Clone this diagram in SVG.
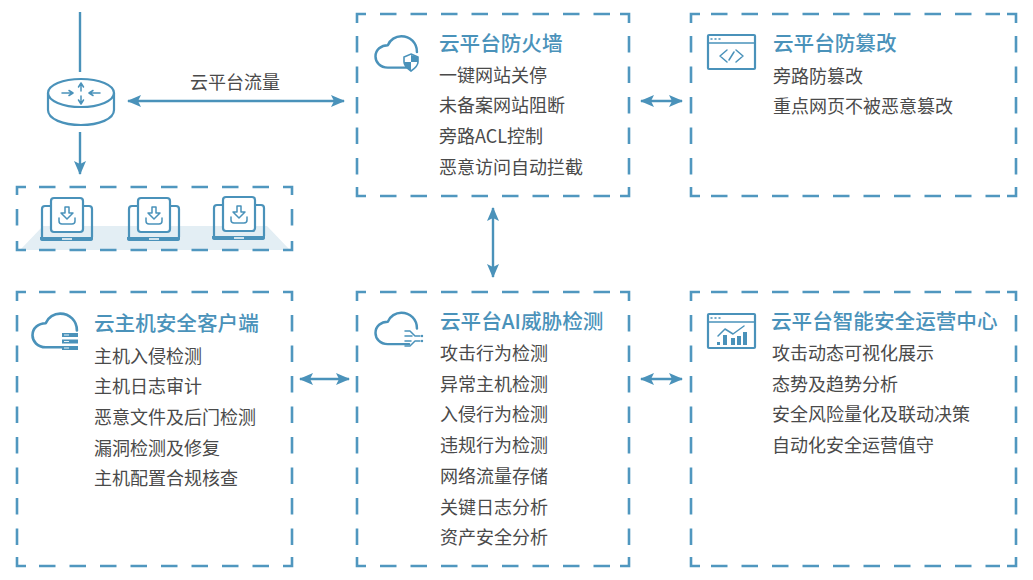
<svg xmlns="http://www.w3.org/2000/svg" width="1033" height="580" viewBox="0 0 1033 580">
<style>
text{font-family:"Noto Sans CJK SC","Liberation Sans",sans-serif}
.t{font-size:20.6px;fill:#4a92ba;font-weight:500}
.b{font-size:18px;fill:#4a4a4a}
.d{fill:none;stroke:#5097bf;stroke-width:2.6}
.ds{stroke-dasharray:16.500 14}
.i{fill:none;stroke:#4a92ba;stroke-width:2.200;stroke-linecap:round;stroke-linejoin:round}
.i2{fill:none;stroke:#4a92ba;stroke-width:1.500;stroke-linecap:round;stroke-linejoin:round}
.f{fill:#4a92ba}
.w{fill:#e8f2f7}
.c{fill:none;stroke:#4a92ba;stroke-width:2.400}
</style>
<defs>
<marker id="h" viewBox="0 0 14 14" refX="13" refY="7" markerUnits="userSpaceOnUse" markerWidth="14" markerHeight="14" orient="auto-start-reverse"><path d="M0,1 L14,7 L0,13 L3,7 Z" fill="#4a92ba"/></marker>
<g id="laptop">
<path class="i" d="M-23,39 V11 Q-23,8 -20,8 H24 Q27,8 27,11 V39" transform="translate(-1 0)"/>
<rect x="-15" y="0" width="32" height="34" rx="3" fill="#fff" stroke="#4a92ba" stroke-width="2.200"/>
<path class="i2" d="M-1,9 V15 H-5 L1,21 L7,15 H3 V9 Z M-7,20 V23 Q-7,26 -4,26 H6 Q9,26 9,23 V20"/>
<path d="M-26,39 H27 V41 Q27,43 24,43 H-23 Q-26,43 -26,41 Z" class="f"/>
<rect x="-4" y="40" width="10" height="2" fill="#cfe2ec"/>
</g>
<path id="cloud" d="M30,26 H11 C4,26 0,21 0,16 C0,10 5,6 11,6 C13,1 18,-2 23,-2 C31,-2 37,4 37,12"/>
</defs>

<g id="connectors">
<line class="c" x1="80" y1="12" x2="80" y2="72"/>
<line class="c" x1="80" y1="132" x2="80" y2="174" marker-end="url(#h)"/>
<line class="c" x1="128" y1="101" x2="344" y2="101" marker-start="url(#h)" marker-end="url(#h)"/>
<line class="c" x1="641" y1="101" x2="682" y2="101" marker-start="url(#h)" marker-end="url(#h)"/>
<line class="c" x1="493" y1="208" x2="493" y2="277" marker-start="url(#h)" marker-end="url(#h)"/>
<line class="c" x1="300" y1="379" x2="349" y2="379" marker-start="url(#h)" marker-end="url(#h)"/>
<line class="c" x1="641" y1="379" x2="682" y2="379" marker-start="url(#h)" marker-end="url(#h)"/>
</g>
<text x="235" y="89" text-anchor="middle" style="font-size:18px;fill:#4a4a4a">云平台流量</text>

<g id="router">
<ellipse class="i" cx="81" cy="93" rx="33" ry="14"/>
<path class="i" d="M48,93 V110 C48,119 63,125 81,125 C99,125 114,119 114,110 V93"/>
<path class="i2" d="M62,93 H72 M69,90.500 L73,93 L69,95.500 M100,93 H90 M93,90.500 L89,93 L93,95.500 M81,84 V91 M78.500,87 L81,83 L83.500,87 M81,96 V103 M78.500,100 L81,104 L83.500,100"/>
</g>

<g id="hosts">
<polygon points="20,250 43,226 267,226 290,250" fill="#e3eef4"/>
<path class="d" d="M17,195 V187 H26 M283,187 H292 V195 M292,241 V250 H283 M26,250 H17 V241"/>
<path class="d ds" d="M39,187 H275 M39,250 H275"/>
<path class="d ds" d="M17,209 V232 M292,209 V232"/>
<use href="#laptop" x="66" y="198"/>
<use href="#laptop" x="153" y="198"/>
<use href="#laptop" x="238" y="197"/>
</g>

<g id="firewall">
<path class="d" d="M357,23 V14 H366 M620,14 H629 V23 M629,187 V196 H620 M366,196 H357 V187"/>
<path class="d ds" d="M380,14 H612 M380,196 H612 M357,36 V178 M629,36 V178"/>
<use href="#cloud" class="i" transform="translate(375.500 38.500) scale(1.120)"/>
<path d="M411,54 L418,57 V62 C418,66 414,69 411,71 C408,69 404,66 404,62 V57 Z" fill="#fff" stroke="#4a92ba" stroke-width="1.600"/>
<path d="M411,55 V62 H418 V57 Z M411,62 H404 C404,66 408,69 411,71 Z" class="f"/>
<text class="t" x="439" y="50.500">云平台防火墙</text>
<text class="b" x="439" y="82">一键网站关停</text>
<text class="b" x="439" y="112">未备案网站阻断</text>
<text class="b" x="439" y="143">旁路ACL控制</text>
<text class="b" x="439" y="174">恶意访问自动拦截</text>
</g>

<g id="tamper">
<path class="d" d="M691,23 V14 H700 M1007,14 H1016 V23 M1016,187 V196 H1007 M700,196 H691 V187"/>
<path class="d ds" d="M711,14 H1000 M711,196 H1000 M691,36 V178 M1016,36 V178"/>
<rect class="i" x="708" y="35" width="47" height="34" rx="1"/>
<path class="i2" d="M708,43 H755 M711,39 H712 M715,39 H716 M719,39 H720"/>
<path class="i2" d="M727,50 L720,56 L727,62 M736,50 L743,56 L736,62 M729,60 L734,52"/>
<text class="t" x="773" y="50.500">云平台防篡改</text>
<text class="b" x="773" y="83">旁路防篡改</text>
<text class="b" x="773" y="113">重点网页不被恶意篡改</text>
</g>

<g id="host-client">
<path class="d" d="M17,301 V292 H26 M283,292 H292 V301 M292,557 V566 H283 M26,566 H17 V557"/>
<path class="d ds" d="M39,292 H275 M39,566 H275 M17,315 V548 M292,315 V548"/>
<use href="#cloud" class="i" transform="translate(32.500 316) scale(1.200)"/>
<rect class="f" x="62" y="333" width="16" height="4"/>
<rect class="f" x="62" y="339.500" width="16" height="4"/>
<rect class="f" x="62" y="346" width="16" height="4"/>
<path d="M64,335 H69 M64,341.500 H69 M64,348 H69" stroke="#e8f2f7" stroke-width="1" fill="none"/>
<text class="t" x="94" y="331">云主机安全客户端</text>
<text class="b" x="94" y="363">主机入侵检测</text>
<text class="b" x="94" y="393">主机日志审计</text>
<text class="b" x="94" y="424">恶意文件及后门检测</text>
<text class="b" x="94" y="455">漏洞检测及修复</text>
<text class="b" x="94" y="485">主机配置合规核查</text>
</g>

<g id="ai-detect">
<path class="d" d="M357,301 V292 H366 M620,292 H629 V301 M629,557 V566 H620 M366,566 H357 V557"/>
<path class="d ds" d="M380,292 H612 M380,566 H612 M357,315 V548 M629,315 V548"/>
<use href="#cloud" class="i" transform="translate(375.500 315) scale(1.120)"/>
<path class="i2" d="M405,331 H410 L415,336 H420 M405,336 H412 M405,346 H410 L415,341 H420 M405,341 H411"/>
<circle class="f" cx="422" cy="336" r="1.200"/>
<circle class="f" cx="422" cy="341" r="1.200"/>
<text class="t" x="440" y="328.500">云平台AI威胁检测</text>
<text class="b" x="440" y="360">攻击行为检测</text>
<text class="b" x="440" y="391">异常主机检测</text>
<text class="b" x="440" y="421">入侵行为检测</text>
<text class="b" x="440" y="452">违规行为检测</text>
<text class="b" x="440" y="483">网络流量存储</text>
<text class="b" x="440" y="514">关键日志分析</text>
<text class="b" x="440" y="544">资产安全分析</text>
</g>

<g id="ops-center">
<path class="d" d="M691,301 V292 H700 M1007,292 H1016 V301 M1016,557 V566 H1007 M700,566 H691 V557"/>
<path class="d ds" d="M711,292 H1000 M711,566 H1000 M691,315 V548 M1016,315 V548"/>
<rect class="i" x="708" y="314" width="47" height="34" rx="1"/>
<path class="i2" d="M708,322 H755 M711,318 H712 M715,318 H716 M719,318 H720"/>
<path class="i2" d="M718,336 L725,329 L733,334 L744,326"/>
<rect class="f" x="717" y="342" width="3" height="3"/>
<rect class="f" x="723" y="335" width="4" height="10"/>
<rect class="f" x="731" y="338" width="4" height="7"/>
<rect class="f" x="737" y="336" width="4" height="9"/>
<rect class="f" x="743" y="332" width="4" height="13"/>
<text class="t" x="771" y="328.500">云平台智能安全运营中心</text>
<text class="b" x="772" y="360">攻击动态可视化展示</text>
<text class="b" x="772" y="391">态势及趋势分析</text>
<text class="b" x="772" y="421">安全风险量化及联动决策</text>
<text class="b" x="772" y="452">自动化安全运营值守</text>
</g>
</svg>
